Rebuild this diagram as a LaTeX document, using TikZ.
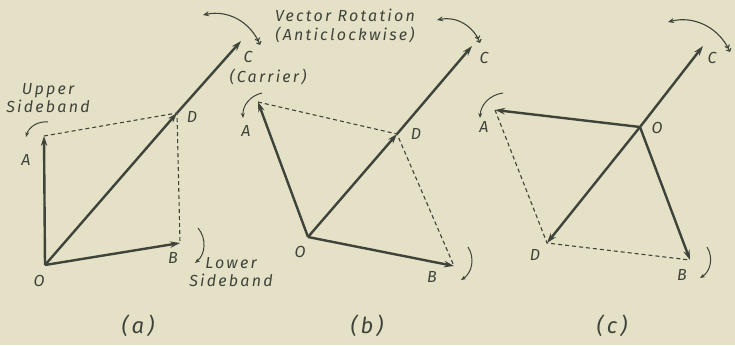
\documentclass[tikz,border=0pt]{standalone}
\usepackage{fontspec}
\setmainfont{Fira Sans}
\newfontfamily\handfont[LetterSpace=14]{Fira Sans}
\usetikzlibrary{arrows.meta}
\definecolor{paper}{RGB}{229,225,199}
\definecolor{ink}{RGB}{62,68,58}
\tikzset{
  vec/.style={ink, line width=2.4pt, -{Stealth[length=10pt,width=6.5pt]}},
  proj/.style={ink, line width=1.1pt, dash pattern=on 4pt off 3pt},
  turn/.style={ink, line width=1pt, -{Stealth[length=5pt,width=4pt]}},
  spin/.style={ink, line width=1.1pt, {Straight Barb[length=2.5pt,width=5pt]Straight Barb[length=2.5pt,width=5pt]}-{Stealth[length=6pt,width=5pt]}},
  lbl/.style={ink, font=\fontsize{16}{18.5}\handfont\itshape, inner sep=0pt},
  captext/.style={ink, font=\fontsize{22}{24}\handfont\itshape, inner sep=0pt}
}
\begin{document}
\begin{tikzpicture}[x=1pt, y=-1pt]
    \fill[paper] (0,0) rectangle (735,345);
    \useasboundingbox (0,0) rectangle (735,345);

    % panel (a): sidebands at right angles
    \coordinate (aO) at (45,265);
    \coordinate (aA) at (44,136);
    \coordinate (aD) at (177,113);
    \coordinate (aC) at (241,41);
    \coordinate (aB) at (180,243);
    \draw[proj] (aA) -- (aD) -- (aB);
    \draw[vec] (aO) -- (aA);
    \draw[vec] (aO) -- (aB);
    \draw[vec] (aO) -- (aD);
    \draw[vec] (aD) -- (aC);
    \node[lbl] (aOl) at (39,281) {O};
    \node[lbl] (aAl) at (26,160) {A};
    \node[lbl] (aDl) at (192,117) {D};
    \node[lbl] (aCl) at (248,57) {C};
    \node[lbl] (aBl) at (173,258) {B};
    \node[lbl, align=center] (upper) at (48,98) {Upper\\Sideband};
    \node[lbl, align=center] (lower) at (231,272) {Lower\\Sideband};
    \node[lbl] (carrier) at (268,77) {(Carrier)};
    \coordinate (aT1) at (48,122);
    \coordinate (aT2) at (26,137);
    \draw[turn] (aT1) to[bend right=40] (aT2);
    \coordinate (aT3) at (198,228);
    \coordinate (aT4) at (195,263);
    \draw[turn] (aT3) to[bend left=45] (aT4);
    \coordinate (aS1) at (260,45);
    \coordinate (aS2) at (203,15);
    \draw[spin] (aS1) to[bend right=40] (aS2);
    \node[captext] (capa) at (138,326) {(a)};

    % title
    \node[lbl, align=center] (title) at (345,26) {Vector Rotation\\(Anticlockwise)};

    % panel (b): sidebands swung apart
    \coordinate (bO) at (308,237);
    \coordinate (bA) at (258,102);
    \coordinate (bD) at (397,134);
    \coordinate (bC) at (472,46);
    \coordinate (bB) at (454,266);
    \draw[proj] (bA) -- (bD) -- (bB);
    \draw[vec] (bO) -- (bA);
    \draw[vec] (bO) -- (bB);
    \draw[vec] (bO) -- (bD);
    \draw[vec] (bD) -- (bC);
    \node[lbl] (bOl) at (300,252) {O};
    \node[lbl] (bAl) at (246,131) {A};
    \node[lbl] (bDl) at (416,134) {D};
    \node[lbl] (bCl) at (484,58) {C};
    \node[lbl] (bBl) at (432,277) {B};
    \coordinate (bT1) at (262,93);
    \coordinate (bT2) at (243,118);
    \draw[turn] (bT1) to[bend right=40] (bT2);
    \coordinate (bT3) at (468,247);
    \coordinate (bT4) at (461,280);
    \draw[turn] (bT3) to[bend left=45] (bT4);
    \coordinate (bS1) at (480,43);
    \coordinate (bS2) at (437,20);
    \draw[spin] (bS1) to[bend right=40] (bS2);
    \node[captext] (capb) at (367,326) {(b)};

    % panel (c): resultant opposite the carrier
    \coordinate (cO) at (640,127);
    \coordinate (cA) at (495,110);
    \coordinate (cD) at (547,243);
    \coordinate (cC) at (703,46);
    \coordinate (cB) at (690,260);
    \draw[proj] (cA) -- (cD) -- (cB);
    \draw[vec] (cO) -- (cA);
    \draw[vec] (cO) -- (cB);
    \draw[vec] (cO) -- (cD);
    \draw[vec] (cO) -- (cC);
    \node[lbl] (cOl) at (657,128) {O};
    \node[lbl] (cAl) at (484,127) {A};
    \node[lbl] (cDl) at (535,255) {D};
    \node[lbl] (cCl) at (712,58) {C};
    \node[lbl] (cBl) at (682,275) {B};
    \coordinate (cT1) at (503,93);
    \coordinate (cT2) at (480,118);
    \draw[turn] (cT1) to[bend right=40] (cT2);
    \coordinate (cT3) at (707,247);
    \coordinate (cT4) at (700,278);
    \draw[turn] (cT3) to[bend left=45] (cT4);
    \coordinate (cS1) at (730,52);
    \coordinate (cS2) at (668,22);
    \draw[spin] (cS1) to[bend right=40] (cS2);
    \node[captext] (capc) at (612,326) {(c)};
\end{tikzpicture}
\end{document}
